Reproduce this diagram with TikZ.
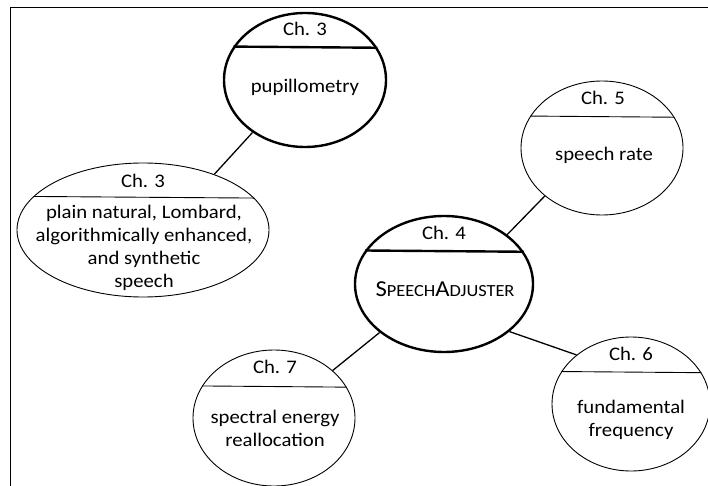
\documentclass[tikz,border=0pt]{standalone}
\usepackage{fontspec}
\setmainfont{Carlito}[FakeStretch=1.08]
\usetikzlibrary{shapes.geometric, positioning}
\tikzstyle{thicknode} = [ellipse, draw, line width=2.4pt, inner sep=0pt]
\tikzstyle{thinnode} = [ellipse, draw, line width=0.9pt, inner sep=0pt]
\tikzstyle{line} = [draw, line width=1.3pt]
\tikzstyle{thickrule} = [draw, line width=2.4pt]
\tikzstyle{thinrule} = [draw, line width=0.9pt]
\tikzstyle{chap} = [anchor=base, inner sep=0pt, font=\fontsize{19.2}{23}\selectfont]
\tikzstyle{body} = [anchor=base, inner sep=0pt, align=center, font=\fontsize{19.2}{23}\selectfont]
\newcommand{\smallcap}[1]{{\fontsize{17}{20}\selectfont #1}}

\begin{document}
\begin{tikzpicture}[x=1pt, y=-1pt]
			\useasboundingbox (0,0) rectangle (708,486);
			\draw [line width=0.9pt] (10,486) -- (10,7) -- (708,7);

			\node [thicknode, minimum width=162pt, minimum height=134pt] (pup) at (305,80) {};
			\node [thinnode, minimum width=252pt, minimum height=134pt] (lom) at (143,230) {};
			\node [thinnode, minimum width=162pt, minimum height=134pt] (rate) at (602,148) {};
			\node [thicknode, minimum width=178pt, minimum height=136pt] (hub) at (444,284) {};
			\node [thinnode, minimum width=158pt, minimum height=134pt] (fzero) at (631,404) {};
			\node [thinnode, minimum width=162pt, minimum height=136pt] (spec) at (274,418) {};

			% dividers
			\path [thickrule] (pup.155.7) -- (pup.24.3);
			\path [thinrule] (lom.163.9) -- (lom.16.1);
			\path [thinrule] (rate.156.6) -- (rate.23.4);
			\path [thickrule] (hub.157.8) -- (hub.22.2);
			\path [thinrule] (fzero.155.2) -- (fzero.24.8);
			\path [thinrule] (spec.156.7) -- (spec.23.3);

			% labels (multi-line ones sit on their last line)
			\node [chap] (pupch) at (305,36) {Ch. 3};
			\node [body] (puptext) at (305,93) {pupillometry};
			\node [chap] (lomch) at (143,188) {Ch. 3};
			\node [body] (lomtext) at (144,287) {plain natural, Lombard,\\algorithmically enhanced,\\and synthetic\\speech};
			\node [chap] (ratech) at (603,105) {Ch. 5};
			\node [body] (ratetext) at (604,161) {speech rate};
			\node [chap] (hubch) at (444,239) {Ch. 4};
			\node [body, font=\fontsize{22.8}{26}\selectfont] (hubtext) at (445,296) {S\smallcap{PEECH}A\smallcap{DJUSTER}};
			\node [chap] (fzeroch) at (631,360) {Ch. 6};
			\node [body] (fzerotext) at (631,436) {fundamental\\frequency};
			\node [chap] (specch) at (275,373) {Ch. 7};
			\node [body] (spectext) at (275,446) {spectral energy\\reallocation};

			\path [line] (pup.225.5) -- (lom.38.4);
			\path [line] (hub.38) -- (rate.220);
			\path [line] (hub.-36.4) -- (fzero.138);
			\path [line] (hub.217) -- (spec.39.6);
		\end{tikzpicture}
\end{document}
